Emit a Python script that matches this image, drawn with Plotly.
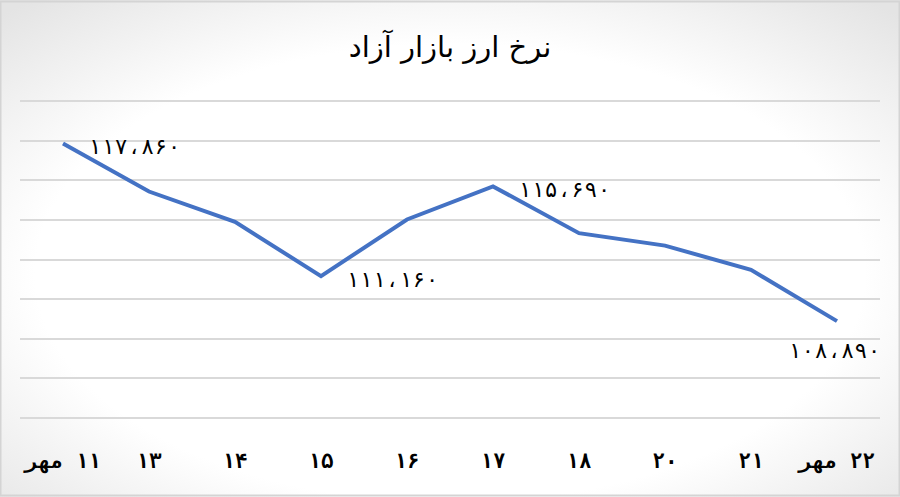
import plotly.graph_objects as go
import urllib.parse

# ---- data ----
categories = ["\u200f۱۱ مهر", "۱۳", "۱۴", "۱۵", "۱۶", "۱۷", "۱۸", "۲۰", "۲۱", "\u200f۲۲ مهر"]
values = [117860, 115430, 113900, 111160, 114020, 115690, 113330, 112700, 111480, 108890]
label_texts = ["۱۱۷،۸۶۰", "", "", "۱۱۱،۱۶۰", "", "۱۱۵،۶۹۰", "", "", "", "۱۰۸،۸۹۰"]
title_text = "نرخ ارز بازار آزاد"

# label placement (right of point or below)
label_pos = ["right", None, None, "right", None, "right", None, None, None, "below"]

FONT = "DejaVu Sans"
NUMFONT = "DejaVu Sans Mono, DejaVu Sans"

fig = go.Figure()
fig.add_trace(go.Scatter(
    x=categories, y=values, mode="lines",
    line=dict(color="#4472C4", width=4),
    hoverinfo="skip", showlegend=False,
))

annotations = []
for xc, yv, t, p in zip(categories, values, label_texts, label_pos):
    if not t:
        continue
    if p == "right":
        annotations.append(dict(x=xc, y=yv, text=t, showarrow=False, xanchor="left",
                                yanchor="middle", xshift=23, yshift=-3,
                                font=dict(family=NUMFONT, size=22, color="black")))
    else:
        annotations.append(dict(x=xc, y=yv, text=t, showarrow=False, xanchor="center",
                                yanchor="middle", xshift=-3, yshift=-29,
                                font=dict(family=NUMFONT, size=22, color="black")))

# background gradient (white centre, light grey edges)
svg = ('<svg xmlns="http://www.w3.org/2000/svg" width="900" height="497" preserveAspectRatio="none">'
       '<defs><radialGradient id="g" cx="50%" cy="55%" r="72%">'
       '<stop offset="0.64" stop-color="#ffffff"/>'
       '<stop offset="1" stop-color="#e4e4e4"/></radialGradient></defs>'
       '<rect width="900" height="497" fill="url(#g)"/>'
       '<rect x="0.5" y="1.5" width="899" height="494" fill="none" stroke="#d4d4d4" stroke-width="2"/>'
       '</svg>')
src = "data:image/svg+xml;charset=utf-8," + urllib.parse.quote(svg)

T, B = 99, 77
PH = 497 - T - B

fig.update_layout(
    width=900, height=497,
    margin=dict(l=20, r=20, t=T, b=B, autoexpand=False),
    paper_bgcolor="white",
    plot_bgcolor="rgba(0,0,0,0)",
    title=dict(text=title_text, x=0.5, xanchor="center", y=1 - 47/497, yanchor="middle",
               font=dict(family=FONT, size=29, color="black")),
    images=[dict(source=src, xref="paper", yref="paper", x=-20/860, y=1 + T/PH,
                 sizex=900/860, sizey=497/PH, xanchor="left", yanchor="top",
                 sizing="stretch", layer="below")],
    annotations=annotations,
    xaxis=dict(type="category", range=[-0.5, len(categories) - 0.5], automargin=False,
               showgrid=False, zeroline=False, showline=False,
               ticks="outside", ticklen=22, tickcolor="rgba(0,0,0,0)",
               tickfont=dict(family=NUMFONT, size=21, color="black", weight="bold"),
               fixedrange=True),
    yaxis=dict(range=[103900, 120100], dtick=2000, tick0=104000, automargin=False,
               showgrid=True, gridcolor="#d9d9d9", gridwidth=2,
               zeroline=False, showline=False, showticklabels=False,
               fixedrange=True),
)

fig.write_html(
    "out.html",
    config={"displayModeBar": False},
    post_script="document.body.style.margin='0';document.body.style.overflow='hidden';",
)
